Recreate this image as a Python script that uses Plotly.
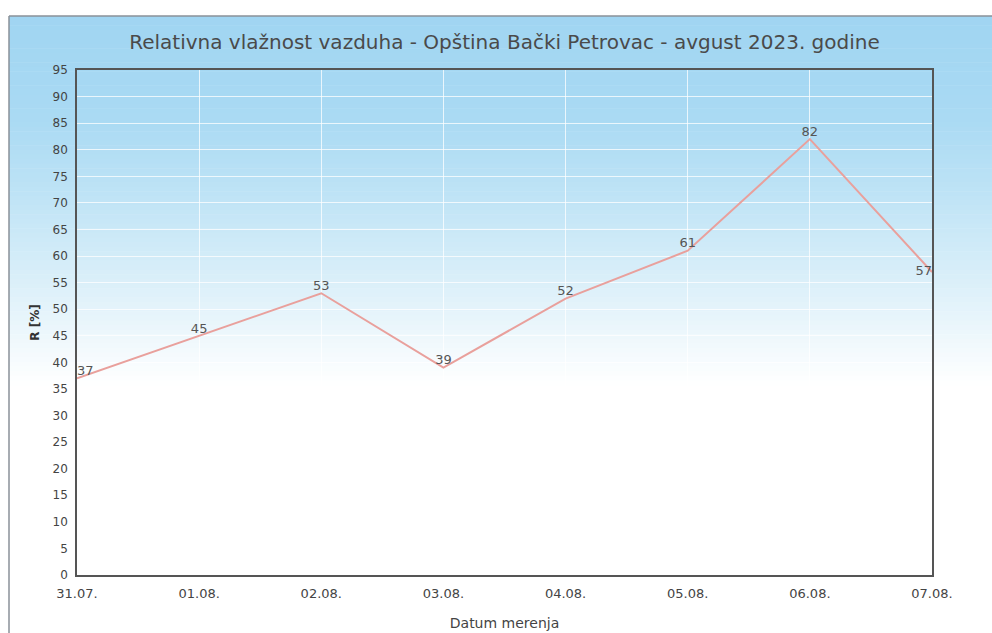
import plotly.graph_objects as go

# Data
dates = ["31.07.", "01.08.", "02.08.", "03.08.", "04.08.", "05.08.", "06.08.", "07.08."]
humidity = [37, 45, 53, 39, 52, 61, 82, 57]
label_pos = ["top right", "top center", "top center", "top center",
             "top center", "top center", "top center", "middle left"]
y_ticks = list(range(0, 100, 5))

W, H = 992, 633
ML, MR, MT, MB = 77, 60, 70, 58
PW, PH = W - ML - MR, H - MT - MB
FONT = "DejaVu Sans"


def px(x):
    return (x - ML) / PW


def py(y):
    return 1 - (y - MT) / PH


fig = go.Figure()
fig.add_trace(go.Scatter(
    x=dates, y=humidity, mode="lines+text",
    text=[str(v) for v in humidity], textposition=label_pos,
    textfont=dict(family=FONT, size=13, color="#555555"),
    line=dict(color="#e9a09c", width=2),
    cliponaxis=False, hoverinfo="x+y", showlegend=False,
))

# background gradient (decoration)
shapes = []
stops = [(16, (160, 213, 242)), (120, (170, 218, 243)), (200, (192, 228, 246)),
         (300, (225, 242, 250)), (385, (255, 255, 255))]
n = 80
y0p, y1p = 16, 385
for i in range(n):
    ya = y0p + (y1p - y0p) * i / n
    yb = y0p + (y1p - y0p) * (i + 1) / n + 0.5
    ym = (ya + yb) / 2
    for j in range(len(stops) - 1):
        if stops[j][0] <= ym <= stops[j + 1][0]:
            t = (ym - stops[j][0]) / (stops[j + 1][0] - stops[j][0])
            c = tuple(int(round(stops[j][1][k] + t * (stops[j + 1][1][k] - stops[j][1][k]))) for k in range(3))
            break
    shapes.append(dict(type="rect", xref="paper", yref="paper", layer="below",
                       x0=px(9), x1=px(W), y0=py(yb), y1=py(ya),
                       fillcolor="rgb(%d,%d,%d)" % c, line=dict(width=0)))
# outer frame lines
shapes.append(dict(type="line", xref="paper", yref="paper", x0=px(9), x1=px(W),
                   y0=py(16), y1=py(16), line=dict(color="#8a9098", width=1.5)))
shapes.append(dict(type="line", xref="paper", yref="paper", x0=px(9), x1=px(9),
                   y0=py(16), y1=py(H), line=dict(color="#8a9098", width=1.5)))

fig.update_layout(
    width=W, height=H,
    margin=dict(l=ML, r=MR, t=MT, b=MB, autoexpand=False),
    paper_bgcolor="white",
    plot_bgcolor="rgba(0,0,0,0)",
    shapes=shapes,
    title=dict(text="Relativna vlažnost vazduha - Opština Bački Petrovac - avgust 2023. godine",
               x=0.5, xref="paper", y=1 - 42 / H, yanchor="middle",
               font=dict(family=FONT, size=20, color="#4a4a4a")),
    font=dict(family=FONT, size=12, color="#444444"),
    xaxis=dict(
        type="category", range=[0, len(dates) - 1], automargin=False,
        showgrid=True, gridcolor="rgba(255,255,255,0.75)", gridwidth=1,
        showline=True, linecolor="#555555", linewidth=1.5, mirror=True,
        ticks="", ticklabelstandoff=6, tickfont=dict(family=FONT, size=13, color="#444444"),
        title=dict(text="Datum merenja", font=dict(family=FONT, size=14, color="#444444"), standoff=18),
        zeroline=False,
    ),
    yaxis=dict(
        range=[0, 95], tickvals=y_ticks, automargin=False,
        showgrid=True, gridcolor="rgba(255,255,255,0.75)", gridwidth=1,
        showline=True, linecolor="#555555", linewidth=1.5, mirror=True,
        ticks="", ticklabelstandoff=5, tickfont=dict(family=FONT, size=12, color="#444444"),
        title=dict(text="<b>R [%]</b>", font=dict(family=FONT, size=12, color="#333333"), standoff=10),
        zeroline=False,
    ),
)

fig.write_html("out.html", config={"displayModeBar": False},
               post_script="document.body.style.margin='0';")
